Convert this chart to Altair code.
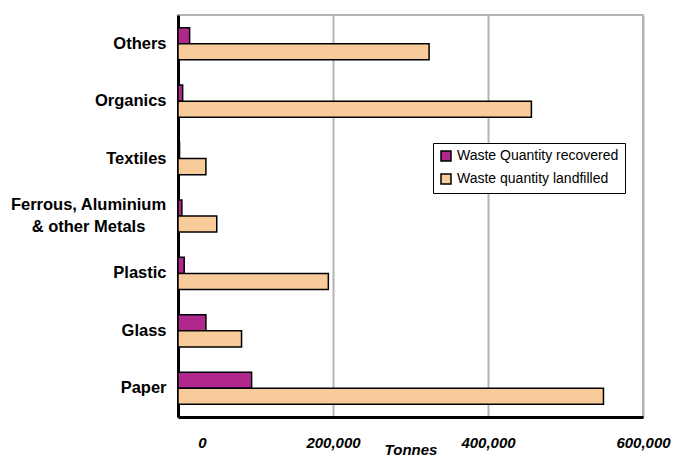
import altair as alt
import pandas as pd

categories = ["Others", "Organics", "Textiles", "Ferrous, Aluminium & other Metals",
              "Plastic", "Glass", "Paper"]
recovered = [15000, 6000, 2000, 5000, 8000, 36000, 95000]
landfilled = [324000, 456000, 36000, 50000, 194000, 82000, 549000]
series = ["Waste Quantity recovered", "Waste quantity landfilled"]
colors = ["#B0288C", "#F8CB9B"]
ticks = [0, 200000, 400000, 600000]

rows = []
for c, r, l in zip(categories, recovered, landfilled):
    rows.append({"cat": c, "series": series[0], "val": r, "ord": 0})
    rows.append({"cat": c, "series": series[1], "val": l, "ord": 1})
df = pd.DataFrame(rows)

metal = "Ferrous, Aluminium & other Metals"
is_metal = f"datum.value == '{metal}'"

chart = alt.Chart(df).mark_bar(stroke="black", strokeWidth=1.5).encode(
    y=alt.Y("cat:N", sort=categories, title=None,
            scale=alt.Scale(paddingInner=0.44, paddingOuter=0.22),
            axis=alt.Axis(
                domainColor="black", domainWidth=3, ticks=False,
                labelFont="Liberation Sans", labelFontWeight="bold", labelFontSize=16.5,
                labelColor="black",
                labelExpr=f"{is_metal} ? ['Ferrous, Aluminium', '& other Metals'] : datum.value",
                labelAlign={"condition": {"test": is_metal, "value": "center"}, "value": "right"},
                labelPadding={"condition": {"test": is_metal, "value": 90}, "value": 12},
                labelOffset={"condition": {"test": is_metal, "value": -11}, "value": 0},
                labelLineHeight=22, labelLimit=300)),
    yOffset=alt.YOffset("ord:O"),
    x=alt.X("val:Q", title="Tonnes",
            scale=alt.Scale(domain=[0, 600000], nice=False),
            axis=alt.Axis(
                values=ticks, format=",d", ticks=False,
                domainColor="black", domainWidth=3,
                grid=True, gridColor="#b4b4b4", gridWidth=2,
                labelFont="Liberation Sans", labelFontWeight="bold", labelFontStyle="italic",
                labelFontSize=15, labelColor="black", labelPadding=18, labelBaseline="top",
                labelOffset={"condition": {"test": "datum.value == 0", "value": 24}, "value": 0},
                labelFlush=False,
                titleFont="Liberation Sans", titleFontWeight="bold", titleFontStyle="italic",
                titleFontSize=15, titleColor="black", titleY=25, titleBaseline="top")),
    color=alt.Color("series:N", sort=series,
                    scale=alt.Scale(domain=series, range=colors),
                    legend=alt.Legend(
                        title=None, orient="none", legendX=255, legendY=128,
                        strokeColor="black", fillColor="white", padding=6,
                        symbolType="square", symbolSize=100, symbolStrokeColor="black",
                        symbolStrokeWidth=1.5, symbolOpacity=1,
                        labelFont="Liberation Sans", labelFontSize=14, labelColor="black",
                        labelLimit=300,
                        rowPadding=7, labelOffset=4, offset=0)),
).properties(
    width=465, height=402,
    autosize=alt.AutoSizeParams(type="none"),
    padding={"left": 178, "top": 15, "right": 31, "bottom": 40},
).configure_view(stroke="#b4b4b4", strokeWidth=2)

chart.save("out.html", embed_options={"renderer": "svg", "actions": False})
